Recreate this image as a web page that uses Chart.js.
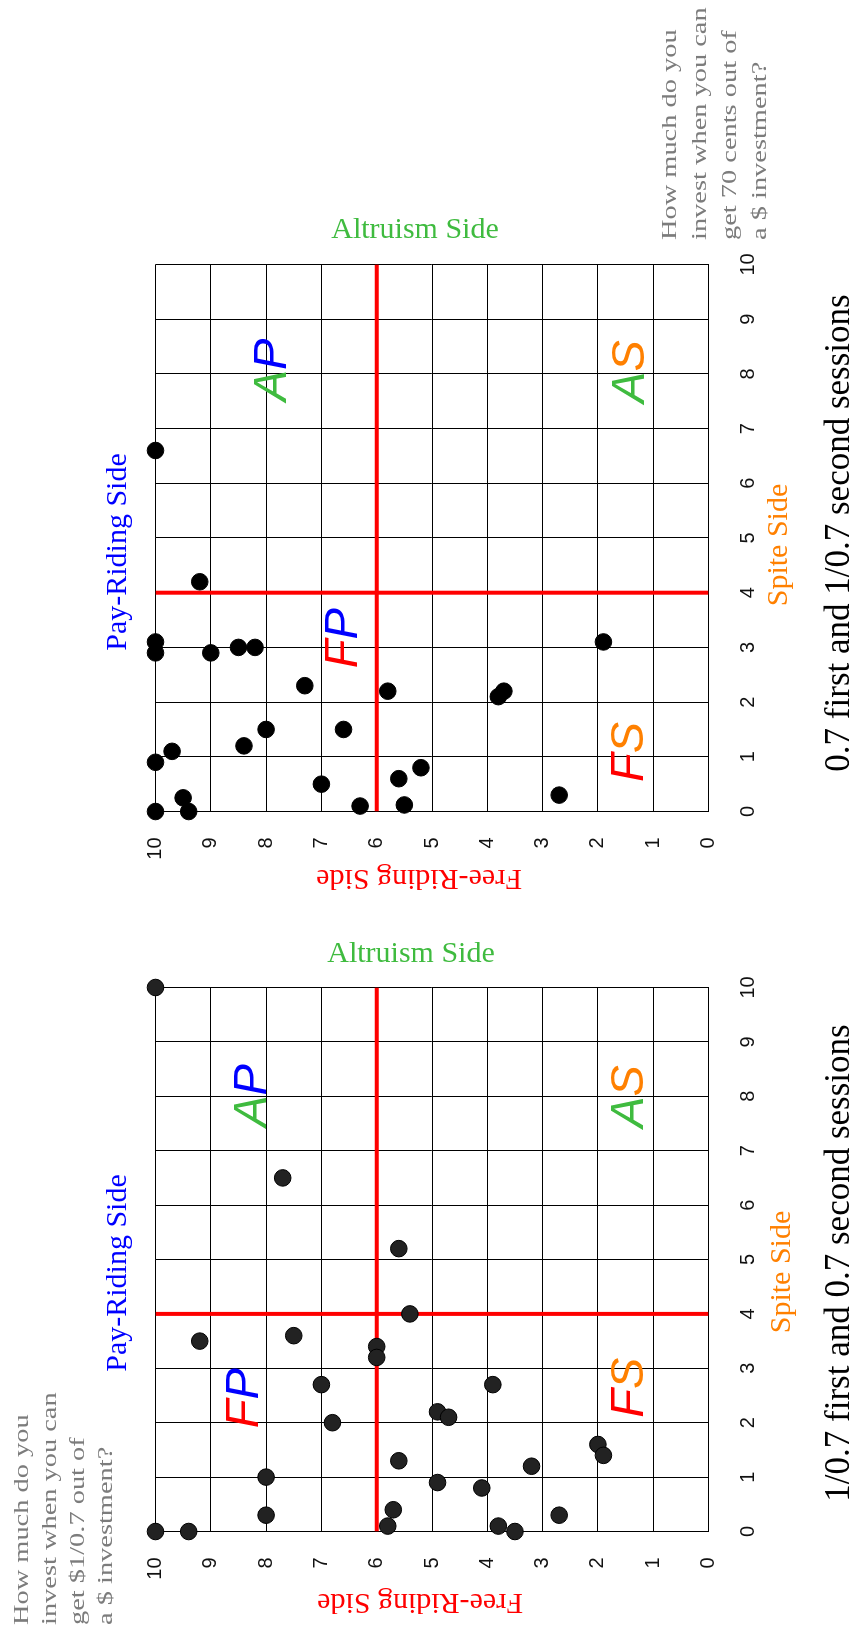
<!DOCTYPE html>
<html>
<head>
<meta charset="utf-8">
<script src="https://cdn.jsdelivr.net/npm/chart.js@4.4.1/dist/chart.umd.min.js"></script>
<style>
  html, body { margin: 0; padding: 0; background: #fff; overflow: hidden; }
  body { width: 858px; height: 1640px; position: relative; }
  /* the figure is laid out landscape and turned a quarter to the left */
  #fig { position: absolute; left: 0; top: 0; width: 1640px; height: 858px;
         transform-origin: 0 0; transform: translate(0, 1640px) rotate(-90deg); }
  #fig canvas { position: absolute; top: 0; }
</style>
</head>
<body>
<div id="fig">
  <canvas id="cFirst" width="720" height="858" style="left:0"></canvas>
  <canvas id="cSecond" width="920" height="858" style="left:720px"></canvas>
</div>
<script>
// ---- data ----
const tickValues = [0, 1, 2, 3, 4, 5, 6, 7, 8, 9, 10];
const splitX = 4;   // red vertical divider
const splitY = 6;   // red horizontal divider

// 1/0.7 first and 0.7 second sessions
const firstX = [10, 6.5, 5.2, 4.0, 3.5, 3.6, 3.4, 3.2, 2.7, 2.7, 2.0, 2.2, 2.1, 1.6, 1.4, 1.3, 1.2, 1.0, 0.9, 0.8, 0.3, 0.4, 0.3, 0.1, 0.1, 0, 0, 0];
const firstY = [10, 7.7, 5.6, 5.4, 9.2, 7.5, 6.0, 6.0, 7.0, 3.9, 6.8, 4.9, 4.7, 2.0, 1.9, 5.6, 3.2, 8.0, 4.9, 4.1, 8.0, 5.7, 2.7, 5.8, 3.8, 10, 9.4, 3.5];

// 0.7 first and 1/0.7 second sessions
const secondX = [6.6, 4.2, 3.1, 2.9, 2.9, 3.0, 3.0, 2.3, 2.2, 2.1, 2.2, 3.1, 1.5, 1.5, 0.9, 1.1, 1.2, 0.5, 0.6, 0.8, 0.3, 0.25, 0, 0, 0.1, 0.12];
const secondY = [10, 9.2, 10, 10, 9.0, 8.5, 8.2, 7.3, 5.8, 3.8, 3.7, 1.9, 8.0, 6.6, 10, 9.7, 8.4, 7.0, 5.6, 5.2, 2.7, 9.5, 10, 9.4, 6.3, 5.5];

const firstTitle = "1/0.7 first and 0.7 second sessions";
const secondTitle = "0.7 first and 1/0.7 second sessions";
const firstQuestion = ["How much do you", "invest when you can", "get $1/0.7 out of", "a $ investment?"];
const secondQuestion = ["How much do you", "invest when you can", "get 70 cents out of", "a $ investment?"];

// ---- look ----
const SERIF = "'Liberation Serif', 'Times New Roman', serif";
const SANS = "'Liberation Sans', Arial, sans-serif";
const RED = "#ff0000", BLUE = "#0000ff", GREEN = "#3fbb3f", ORANGE = "#ff8000", GRAY = "#7c7c7c";
const H = 858;

function textPlugin(items, quads) {
  return {
    id: "figText",
    afterDraw(chart) {
      const ctx = chart.ctx;
      items.forEach((t) => {
        ctx.save();
        ctx.translate(t.x, t.y);
        if (t.rot) ctx.rotate(t.rot);
        if (t.sx) ctx.scale(t.sx, 1);
        ctx.font = `${t.size}px ${SERIF}`;
        ctx.fillStyle = t.color;
        ctx.textAlign = t.align || "center";
        ctx.textBaseline = "alphabetic";
        ctx.fillText(t.text, 0, 0);
        ctx.restore();
      });
      const xs = chart.scales.x, ys = chart.scales.y;
      quads.forEach((q) => {
        let px = xs.getPixelForValue(q.x);
        const py = ys.getPixelForValue(q.y);
        ctx.save();
        ctx.font = `italic 47px ${SANS}`;
        ctx.textAlign = "left";
        ctx.textBaseline = "alphabetic";
        q.parts.forEach(([ch, col]) => {
          ctx.fillStyle = col;
          ctx.fillText(ch, px, py);
          px += ctx.measureText(ch).width;
        });
        ctx.restore();
      });
    },
  };
}

function questionLines(lines, x, y0, step) {
  return lines.map((s, i) => ({ text: s, x, y: y0 + i * step, size: 20, sx: 1.42, color: GRAY, align: "left" }));
}

function makeChart(id, xs, ys, dotColor, box, items, quads) {
  const pts = xs.map((x, i) => ({ x, y: ys[i] }));
  const axis = (afterFit, pad) => ({
    type: "linear", min: 0, max: 10,
    afterBuildTicks: (s) => { s.ticks = tickValues.map((v) => ({ value: v })); },
    afterFit,
    ticks: { font: { family: SANS, size: 20 }, color: "#111", padding: pad, autoSkip: false, maxRotation: 0 },
    grid: { color: "#000", lineWidth: 1, drawTicks: false },
    border: { color: "#000", width: 1 },
  });

  return new Chart(document.getElementById(id).getContext("2d"), {
    type: "scatter",
    data: {
      datasets: [
        {
          data: pts, order: 0, clip: false,
          backgroundColor: dotColor, borderColor: "#000", borderWidth: 1,
          pointRadius: 8.3, pointHoverRadius: 8.3,
        },
        {
          type: "line", order: 1, data: [{ x: splitX, y: 0 }, { x: splitX, y: 10 }],
          borderColor: RED, borderWidth: 4, pointRadius: 0, fill: false,
        },
        {
          type: "line", order: 1, data: [{ x: 0, y: splitY }, { x: 10, y: splitY }],
          borderColor: RED, borderWidth: 4, pointRadius: 0, fill: false,
        },
      ],
    },
    options: {
      responsive: false,
      animation: false,
      events: [],
      layout: { padding: { left: 0, top: box.top, right: box.right, bottom: 0 } },
      scales: {
        x: axis((s) => { s.height = H - box.bottom; }, 28),
        y: axis((s) => { s.width = box.left; }, 26),
      },
      plugins: { legend: { display: false }, tooltip: { enabled: false } },
    },
    plugins: [textPlugin(items, quads)],
  });
}

const firstItems = [
  ...questionLines(firstQuestion, 15, 27.5, 28),
  { text: "Pay-Riding Side", x: 367, y: 126, size: 30, color: BLUE },
  { text: "Altruism Side", x: 678, y: 411, size: 30, color: GREEN, rot: Math.PI / 2 },
  { text: "Free-Riding Side", x: 46, y: 420, size: 30, color: RED, rot: -Math.PI / 2 },
  { text: "Spite Side", x: 368, y: 790, size: 30, color: ORANGE },
  { text: firstTitle, x: 377, y: 849, size: 35, color: "#000" },
];
const firstQuads = [
  { x: 7.44, y: 8.0, parts: [["A", GREEN], ["P", BLUE]] },
  { x: 1.9, y: 8.15, parts: [["F", RED], ["P", BLUE]] },
  { x: 2.09, y: 1.18, parts: [["F", RED], ["S", ORANGE]] },
  { x: 7.42, y: 1.18, parts: [["A", GREEN], ["S", ORANGE]] },
];

const secondItems = [
  ...questionLines(secondQuestion, 680, 676, 30),
  { text: "Pay-Riding Side", x: 368, y: 126, size: 30, color: BLUE },
  { text: "Altruism Side", x: 682, y: 415, size: 30, color: GREEN, rot: Math.PI / 2 },
  { text: "Free-Riding Side", x: 50, y: 419, size: 30, color: RED, rot: -Math.PI / 2 },
  { text: "Spite Side", x: 375, y: 787, size: 30, color: ORANGE },
  { text: secondTitle, x: 387, y: 849, size: 35, color: "#000" },
];
const secondQuads = [
  { x: 7.5, y: 7.64, parts: [["A", GREEN], ["P", BLUE]] },
  { x: 2.62, y: 6.36, parts: [["F", RED], ["P", BLUE]] },
  { x: 0.54, y: 1.18, parts: [["F", RED], ["S", ORANGE]] },
  { x: 7.47, y: 1.16, parts: [["A", GREEN], ["S", ORANGE]] },
];

makeChart("cFirst", firstX, firstY, "#222", { left: 108.5, top: 155.5, bottom: 708.5, right: 720 - 652.5 }, firstItems, firstQuads);
makeChart("cSecond", secondX, secondY, "#000", { left: 108.5, top: 155.5, bottom: 708.5, right: 920 - 655.5 }, secondItems, secondQuads);
</script>
</body>
</html>
